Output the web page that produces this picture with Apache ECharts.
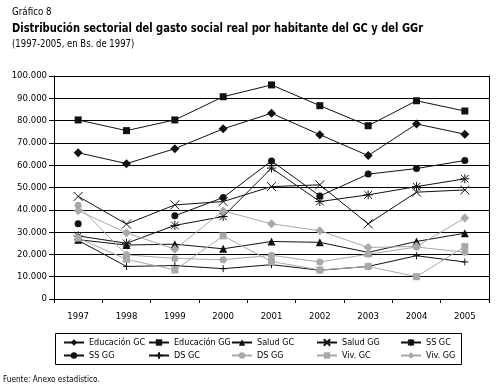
<!DOCTYPE html>
<html>
<head>
<meta charset="utf-8">
<script src="https://cdn.jsdelivr.net/npm/echarts@6/dist/echarts.min.js"></script>
<style>
html, body { margin: 0; padding: 0; background: #fff; }
#chart { width: 498px; height: 392px; }
</style>
</head>
<body>
<div id="chart"></div>
<script>
var FONT = "'Liberation Sans Narrow', 'DejaVu Sans Condensed', 'Arial Narrow', 'Liberation Sans', sans-serif";

// datos
var years = ['1997', '1998', '1999', '2000', '2001', '2002', '2003', '2004', '2005'];
var educacionGC = [65600, 60700, 67400, 76300, 83300, 73700, 64300, 78500, 73900];
var educacionGG = [80300, 75500, 80300, 90700, 96000, 86700, 77700, 88900, 84300];
var saludGC = [26600, 24200, 24600, 22500, 25800, 25400, 20900, 25800, 29500];
var saludGG = [46000, 33600, 42200, 43700, 50400, 51200, 33700, 47900, 48900];
var ssGC = [28300, 25000, 33000, 37000, 58700, 43700, 46700, 50400, 53900];
var ssGG = [33800, null, 37300, 45500, 61900, 46200, 56000, 58500, 62100];
var dsGC = [26300, 14600, 15000, 13600, 15400, 12900, 14600, 19400, 16600];
var dsGG = [42000, 19800, 18200, 17600, 19600, 16600, 20100, 23300, 21000];
var vivGC = [27300, 17800, 13000, 28300, 16800, 13000, 14600, 10000, 23500];
var vivGG = [39600, 29700, 22300, 39500, 33700, 30600, 23100, 23600, 36300];

var BLACK = '#111';
var GRAY = '#a8a8a8';

var X_PATH = 'path://M0,0L10,10M10,0L0,10';
var AST_PATH = 'path://M0,5L10,5M5,0L5,10M0.8,0.8L9.2,9.2M9.2,0.8L0.8,9.2';
var PLUS_PATH = 'path://M0,5L10,5M5,0L5,10';

function serie(name, data, color, symbol, size, hollow) {
	return {
		name: name,
		type: 'line',
		data: data,
		symbol: symbol,
		symbolSize: size,
		connectNulls: false,
		animation: false,
		lineStyle: { color: color, width: 1 },
		itemStyle: hollow ? { color: 'rgba(0,0,0,0)', borderColor: color, borderWidth: 1 } : { color: color, borderWidth: 0 },
		emphasis: { disabled: true }
	};
}

var chart = echarts.init(document.getElementById('chart'));

function legendCol(left, names) {
	return {
		orient: 'vertical',
		left: left,
		top: 338,
		padding: 0,
		itemWidth: 20,
		itemHeight: 8,
		itemGap: 4,
		selectedMode: false,
		textStyle: { fontFamily: FONT, fontSize: 9, color: '#000' },
		data: names
	};
}

// textos escalados a lo ancho para imitar la fuente condensada
function texto(str, x, y, font, sx) {
	return { type: 'text', x: x, y: y, scaleX: sx, style: { text: str, font: font, fill: '#000', textVerticalAlign: 'top' } };
}

var option = {
	backgroundColor: '#fff',
	textStyle: { fontFamily: FONT },
	grid: { left: 54, right: 9, top: 76, bottom: 93 },
	legend: [
		legendCol(63, ['Educación GC', 'SS GG']),
		legendCol(148, ['Educación GG', 'DS GC']),
		legendCol(231, ['Salud GC', 'DS GG']),
		legendCol(316, ['Salud GG', 'Viv. GC']),
		legendCol(400, ['SS GC', 'Viv. GG'])
	],
	xAxis: {
		type: 'category',
		data: years,
		boundaryGap: true,
		axisLine: { show: true, lineStyle: { color: '#000', width: 1 } },
		axisTick: { show: true, length: 4, interval: 0, lineStyle: { color: '#000' } },
		axisLabel: { margin: 13, fontSize: 9.5, color: '#000', fontFamily: FONT },
		splitLine: { show: false }
	},
	yAxis: [{
		type: 'value',
		min: 0,
		max: 100000,
		interval: 10000,
		axisLine: { show: true, lineStyle: { color: '#000', width: 1 } },
		axisTick: { show: true, length: 5, lineStyle: { color: '#000' } },
		axisLabel: {
			margin: 7, fontSize: 9.5, color: '#000', fontFamily: FONT,
			formatter: function (v) { return String(v).replace(/\B(?=(\d{3})+(?!\d))/g, '.'); }
		},
		splitLine: { show: true, lineStyle: { color: '#000', width: 1 } }
	}, {
		type: 'value',
		position: 'right',
		min: 0,
		max: 100000,
		interval: 10000,
		axisLine: { show: true, lineStyle: { color: '#000', width: 1 } },
		axisTick: { show: false },
		axisLabel: { show: false },
		splitLine: { show: false }
	}],
	series: [
		serie('Educación GC', educacionGC, BLACK, 'diamond', 9, false),
		serie('Educación GG', educacionGG, BLACK, 'rect', 7, false),
		serie('Salud GC', saludGC, BLACK, 'triangle', 8, false),
		serie('Salud GG', saludGG, BLACK, X_PATH, 9, true),
		serie('SS GC', ssGC, BLACK, AST_PATH, 9, true),
		serie('SS GG', ssGG, BLACK, 'circle', 7, false),
		serie('DS GC', dsGC, BLACK, PLUS_PATH, 7, true),
		serie('DS GG', dsGG, GRAY, 'circle', 7, false),
		serie('Viv. GC', vivGC, GRAY, 'rect', 7, false),
		serie('Viv. GG', vivGG, GRAY, 'diamond', 9, false)
	],
	graphic: [
		texto('Gráfico 8', 12, 7, '11px ' + FONT, 0.88),
		texto('Distribución sectorial del gasto social real por habitante del GC y del GGr', 12, 23, 'bold 12px ' + FONT, 0.92),
		texto('(1997-2005, en Bs. de 1997)', 12, 39, '10.5px ' + FONT, 0.9),
		{ type: 'rect', shape: { x: 55.5, y: 333.5, width: 406, height: 31 }, style: { fill: 'none', stroke: '#000', lineWidth: 1 }, z: -1 },
		texto('Fuente: Anexo estadístico.', 3, 375, '9.5px ' + FONT, 0.86)
	]
};

chart.setOption(option);
</script>
</body>
</html>
